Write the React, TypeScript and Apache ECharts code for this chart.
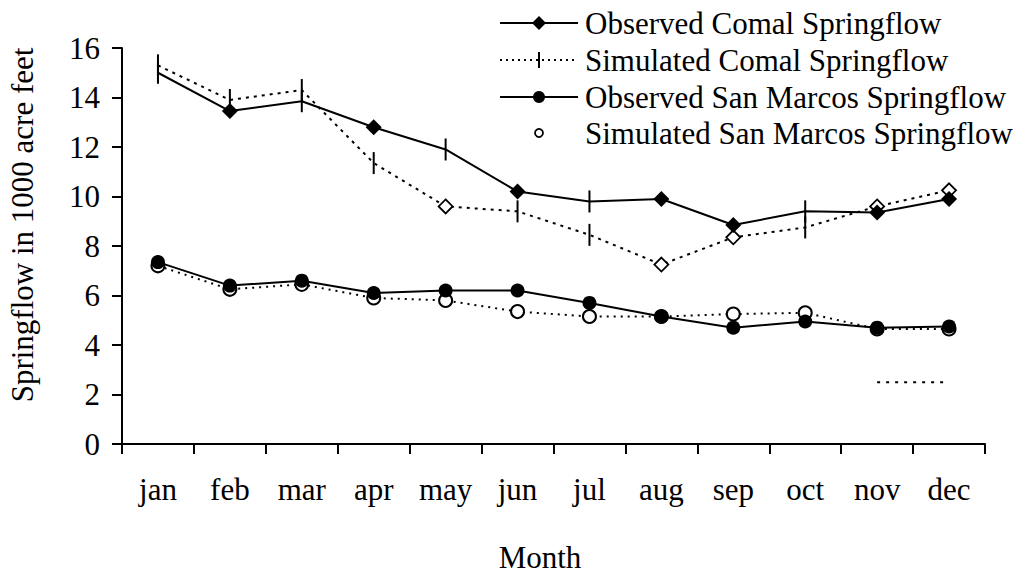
import React, { useEffect, useRef } from "react";
import * as echarts from "echarts";

const months = ["jan", "feb", "mar", "apr", "may", "jun", "jul", "aug", "sep", "oct", "nov", "dec"];
const yTicks = [0, 2, 4, 6, 8, 10, 12, 14, 16];

const observedComal = [15.0, 13.45, 13.85, 12.8, 11.9, 10.2, 9.8, 9.9, 8.85, 9.4, 9.35, 9.9];
const simulatedComal = [15.3, 13.9, 14.3, 11.35, 9.6, 9.4, 8.45, 7.25, 8.35, 8.75, 9.6, 10.25];
const observedSanMarcos = [7.35, 6.4, 6.6, 6.1, 6.2, 6.2, 5.7, 5.15, 4.7, 4.95, 4.7, 4.75];
const simulatedSanMarcos = [7.2, 6.25, 6.45, 5.9, 5.8, 5.35, 5.15, 5.15, 5.25, 5.3, 4.65, 4.65];
const strayTrace = [null, null, null, null, null, null, null, null, null, null, 2.5, 2.5];

const obsComalMarks = ["tick", "diamond", "tick", "diamond", "tick", "diamond", "tick", "diamond", "diamond", "tick", "diamond", "diamond"];
const simComalMarks = ["tick", "tick", "tick", "tick", "open", "tick", "tick", "open", "open", "tick", "open", "open"];

const FONT = "'Liberation Serif', 'Times New Roman', serif";
const FS = 31;

function markerItem(v: number, kind: string) {
  if (kind === "tick") {
    return { value: v, symbol: "rect", symbolSize: [2, 22], itemStyle: { color: "#000", borderWidth: 0 } };
  }
  if (kind === "open") {
    return { value: v, symbol: "diamond", symbolSize: 14, itemStyle: { color: "#fff", borderColor: "#000", borderWidth: 1.8 } };
  }
  return { value: v, symbol: "diamond", symbolSize: 16, itemStyle: { color: "#000", borderColor: "#000", borderWidth: 0 } };
}

export default function App() {
  const ref = useRef<HTMLDivElement>(null);
  useEffect(() => {
    if (!ref.current) return;
    const chart = echarts.init(ref.current, null, { renderer: "svg" });
    const legendRows = [
      { name: "Observed Comal Springflow", y: 23, dash: null as any, mark: "diamond" },
      { name: "Simulated Comal Springflow", y: 60, dash: [2, 4], mark: "tick" },
      { name: "Observed San Marcos Springflow", y: 97, dash: null as any, mark: "dot" },
      { name: "Simulated San Marcos Springflow", y: 133, dash: "none", mark: "ring" },
    ];
    const legendGraphics: any[] = [];
    legendRows.forEach((r) => {
      if (r.dash !== "none") {
        legendGraphics.push({
          type: "line",
          shape: { x1: 500, y1: r.y, x2: 578, y2: r.y },
          style: { stroke: "#000", lineWidth: 2, lineDash: r.dash || undefined },
        });
      }
      if (r.mark === "diamond") {
        legendGraphics.push({
          type: "polygon",
          shape: { points: [[539, r.y - 7], [546, r.y], [539, r.y + 7], [532, r.y]] },
          style: { fill: "#000" },
        });
      } else if (r.mark === "tick") {
        legendGraphics.push({
          type: "line",
          shape: { x1: 539, y1: r.y - 8, x2: 539, y2: r.y + 8 },
          style: { stroke: "#000", lineWidth: 2 },
        });
      } else if (r.mark === "dot") {
        legendGraphics.push({ type: "circle", shape: { cx: 539, cy: r.y, r: 6 }, style: { fill: "#000" } });
      } else {
        legendGraphics.push({
          type: "circle",
          shape: { cx: 539, cy: r.y, r: 4 },
          style: { fill: "#fff", stroke: "#000", lineWidth: 1.8 },
        });
      }
      legendGraphics.push({
        type: "text",
        x: 585,
        y: r.y,
        style: { text: r.name, font: `${FS}px ${FONT}`, fill: "#000", verticalAlign: "middle", align: "left" },
      });
    });

    chart.setOption({
      animation: false,
      backgroundColor: "#fff",
      grid: { left: 122, right: 49, top: 48, bottom: 132, containLabel: false },
      xAxis: {
        type: "category",
        data: months,
        boundaryGap: true,
        axisLine: { lineStyle: { color: "#000", width: 2 } },
        axisTick: { show: true, length: 10, inside: false, lineStyle: { color: "#000", width: 2 } },
        axisLabel: { color: "#000", fontFamily: FONT, fontSize: FS, margin: 30 },
        splitLine: { show: false },
      },
      yAxis: {
        type: "value",
        min: 0,
        max: 16,
        interval: 2,
        axisLine: { show: true, lineStyle: { color: "#000", width: 2 } },
        axisTick: { show: true, length: 10, lineStyle: { color: "#000", width: 2 } },
        axisLabel: { color: "#000", fontFamily: FONT, fontSize: FS, margin: 22, formatter: (v: number) => (yTicks.includes(v) ? String(v) : "") },
        splitLine: { show: false },
      },
      graphic: [
        {
          type: "text",
          x: 22,
          y: 225,
          rotation: Math.PI / 2,
          style: { text: "Springflow in 1000 acre feet", font: `${FS}px ${FONT}`, fill: "#000", align: "center", verticalAlign: "middle" },
        },
        {
          type: "text",
          x: 540,
          y: 557,
          style: { text: "Month", font: `${FS}px ${FONT}`, fill: "#000", align: "center", verticalAlign: "middle" },
        },
        ...legendGraphics,
      ],
      series: [
        {
          name: "Stray",
          type: "line",
          data: strayTrace,
          symbol: "none",
          lineStyle: { color: "#000", width: 2, type: [3, 6] },
          z: 1,
        },
        {
          name: "Simulated San Marcos Springflow",
          type: "line",
          data: simulatedSanMarcos,
          symbol: "circle",
          symbolSize: 13,
          itemStyle: { color: "#fff", borderColor: "#000", borderWidth: 2 },
          lineStyle: { color: "#000", width: 2, type: [2, 5] },
          z: 2,
        },
        {
          name: "Observed San Marcos Springflow",
          type: "line",
          data: observedSanMarcos,
          symbol: "circle",
          symbolSize: 14,
          itemStyle: { color: "#000", borderColor: "#000", borderWidth: 0 },
          lineStyle: { color: "#000", width: 2 },
          z: 3,
        },
        {
          name: "Simulated Comal Springflow",
          type: "line",
          data: simulatedComal.map((v, i) => markerItem(v, simComalMarks[i])),
          lineStyle: { color: "#000", width: 2, type: [3, 5] },
          z: 4,
        },
        {
          name: "Observed Comal Springflow",
          type: "line",
          data: observedComal.map((v, i) => markerItem(v, obsComalMarks[i])),
          lineStyle: { color: "#000", width: 2 },
          z: 5,
        },
      ],
    });
    return () => chart.dispose();
  }, []);
  return <div ref={ref} style={{ width: 1034, height: 576, position: "absolute", left: 0, top: 0 }} />;
}
